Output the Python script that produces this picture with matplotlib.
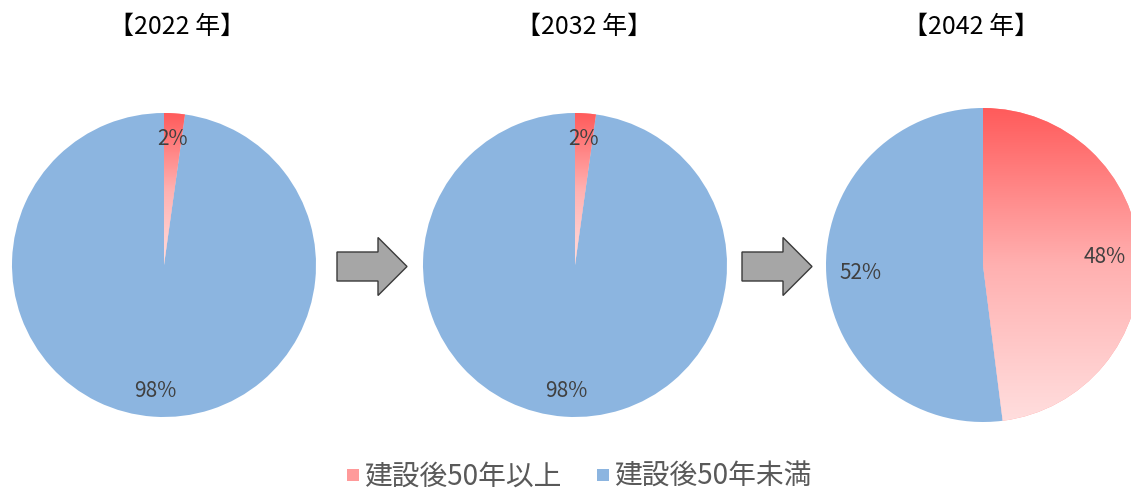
import numpy as np
import matplotlib
matplotlib.use("Agg")
import matplotlib.pyplot as plt
from matplotlib.colors import LinearSegmentedColormap
from matplotlib.patches import FancyArrow
from matplotlib.lines import Line2D

# ---- data ----
years = ["2022", "2032", "2042"]
series_labels = ["建設後50年以上", "建設後50年未満"]
over50 = [2.2, 2.2, 48]
under50 = [97.8, 97.8, 52]

# ---- style ----
FONT = ["Noto Sans CJK JP", "DejaVu Sans"]
plt.rcParams["font.family"] = FONT
blue = "#8CB5E0"
red_cmap = LinearSegmentedColormap.from_list(
    "redgrad", ["#FF5B5B", "#FFB0B0", "#FFDEDE"])

W, H = 1131, 492
fig = plt.figure(figsize=(W / 100, H / 100), dpi=100)

# overlay axes in pixel coordinates (for titles and arrows)
ov = fig.add_axes([0, 0, 1, 1])
ov.set_xlim(0, W)
ov.set_ylim(H, 0)
ov.axis("off")

centers = [(164, 265, 152), (575, 265, 152), (983, 265, 157)]
title_x = [177, 584, 971]
pct_dist = [0.83, 0.83, 0.78]

for i, (cx, cy, r) in enumerate(centers):
    ax = fig.add_axes([(cx - r) / W, (H - cy - r) / H, 2 * r / W, 2 * r / H])
    vals = [over50[i], under50[i]]
    wedges, texts, autotexts = ax.pie(
        vals, colors=["#FF9A9A", blue], startangle=90, counterclock=False,
        autopct="%.0f%%", pctdistance=pct_dist[i], radius=1.0,
        wedgeprops=dict(linewidth=0),
        textprops=dict(color="#404040", fontsize=15, family=FONT))
    # vertical gradient fill inside the red wedge (per-slice bounding box)
    w = wedges[0]
    ext = w.get_path().get_extents()
    grad = np.linspace(0, 1, 256).reshape(-1, 1)
    im = ax.imshow(grad, cmap=red_cmap, extent=[ext.x0, ext.x1, ext.y0, ext.y1],
                   origin="upper", aspect="auto", zorder=1.5,
                   interpolation="bilinear")
    im.set_clip_path(w)
    for t in autotexts:
        t.set_zorder(5)
    ax.set_xlim(-1, 1)
    ax.set_ylim(-1, 1)
    ax.set_aspect("equal")
    ax.axis("off")

    ov.text(title_x[i], 27, f"【{years[i]} 年】", ha="center", va="center",
            fontsize=18, color="black", family=FONT)

# arrows between pies
for x0, x1 in [(337, 407), (742, 812)]:
    ov.add_patch(FancyArrow(x0, 266.5, x1 - x0, 0, width=29, head_width=58,
                            head_length=29, length_includes_head=True,
                            facecolor="#A6A6A6", edgecolor="#3A3A3A",
                            linewidth=1.0))

handles = [
    Line2D([], [], marker="s", linestyle="", markersize=8,
           markerfacecolor="#FF9A9A", markeredgewidth=0),
    Line2D([], [], marker="s", linestyle="", markersize=8,
           markerfacecolor=blue, markeredgewidth=0),
]
fig.legend(handles, series_labels, loc="center", ncol=2,
           bbox_to_anchor=(579 / W, 15 / H), frameon=False,
           prop=dict(family=FONT, size=20), labelcolor="#595959",
           handlelength=0.45, handletextpad=0.15, columnspacing=1.3,
           borderpad=0, borderaxespad=0)

fig.savefig("out.png", dpi=100)
